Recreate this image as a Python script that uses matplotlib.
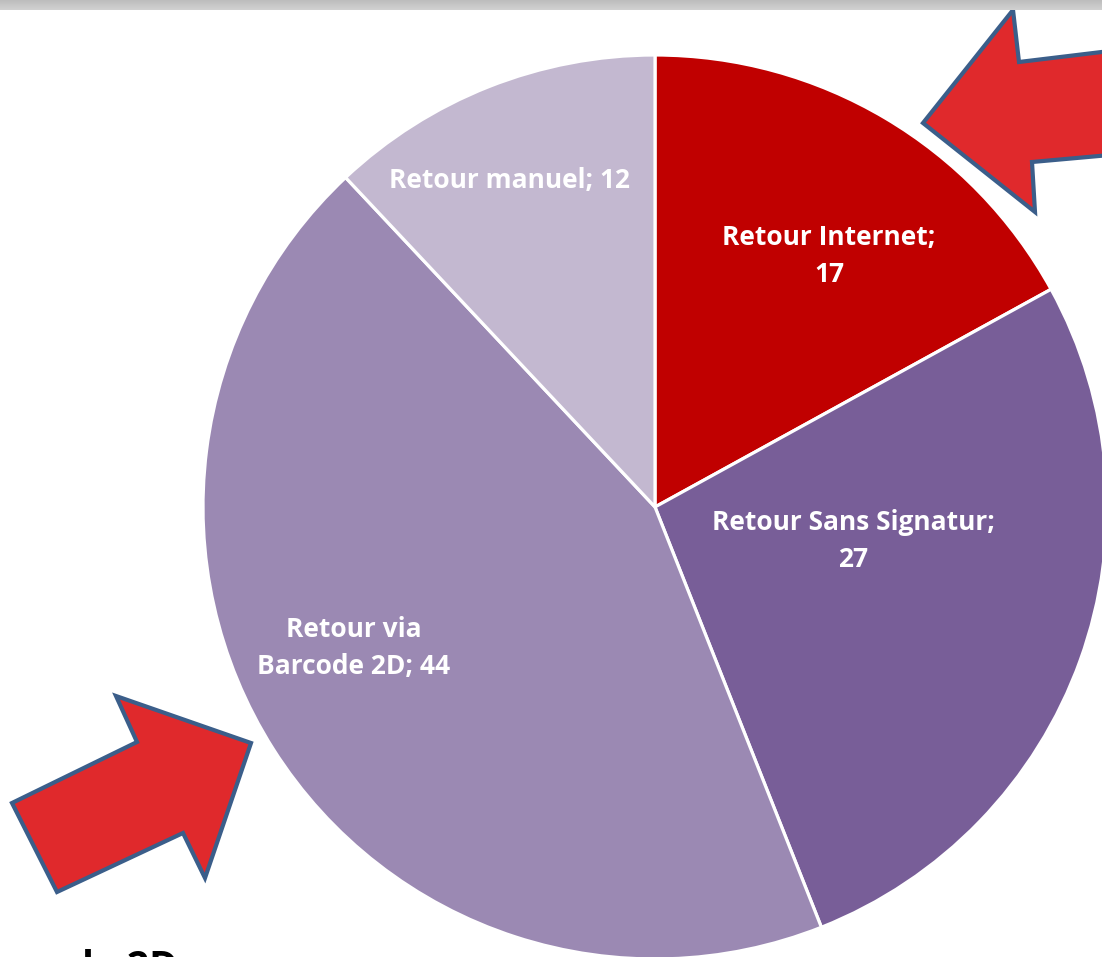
import numpy as np
import matplotlib.pyplot as plt
from matplotlib.patches import Polygon

plt.rcParams['font.family'] = ['Open Sans', 'DejaVu Sans']

labels = ['Retour Internet;\n17', 'Retour Sans Signatur;\n27', 'Retour via\nBarcode 2D; 44', 'Retour manuel; 12']
values = [17, 27, 44, 12]
colors = ['#C00000', '#785E98', '#9B89B3', '#C3B8D0']
# label spots, in pie units (radius 1)
label_xy = [(0.385, 0.555), (0.438, -0.075), (-0.666, -0.312), (-0.321, 0.723)]

W, H = 1102, 957
cx, cy, R = 655, 507, 452   # pie centre / radius in pixels (from top)

fig = plt.figure(figsize=(W / 100, H / 100), dpi=100)
ax = fig.add_axes([0, 0, 1, 1])

ax.pie(values, colors=colors, startangle=90, counterclock=False, radius=1,
       wedgeprops=dict(edgecolor='white', linewidth=2.3), frame=True)
ax.set_aspect('equal')
ax.set_xlim(-cx / R, (W - cx) / R)
ax.set_ylim((cy - H) / R, cy / R)
ax.axis('off')

for lab, (x, y) in zip(labels, label_xy):
    ax.text(x, y, lab, ha='center', va='center', color='white', fontsize=19,
            fontweight='bold', linespacing=1.45)

def px(pts):
    return [((x - cx) / R, (cy - y) / R) for x, y in pts]

arrow1 = [(923, 123), (1013, 10), (1019, 62), (1110, 51), (1110, 155), (1032, 162), (1035, 212)]
arrow2 = [(12, 803), (137, 742), (116, 696), (251, 743), (205, 878), (183, 833), (57, 892)]
for a in (arrow1, arrow2):
    ax.add_patch(Polygon(px(a), closed=True, facecolor='#E0292C', edgecolor='#3B5E8A',
                         linewidth=3, joinstyle='miter', zorder=5))

# partial heading at the bottom (mostly below the picture edge)
fig.text(178 / W, 1 - 949 / H, 'Barcode 2D', ha='right', va='top',
         fontsize=28, fontweight='bold', color='black')

# grey band at the top
gax = fig.add_axes([0, 1 - 10 / H, 1, 10 / H])
grad = np.linspace(0.74, 0.82, 20).reshape(-1, 1)
gax.imshow(grad, aspect='auto', cmap='gray', vmin=0, vmax=1)
gax.axis('off')

fig.savefig('out.png', dpi=100)
